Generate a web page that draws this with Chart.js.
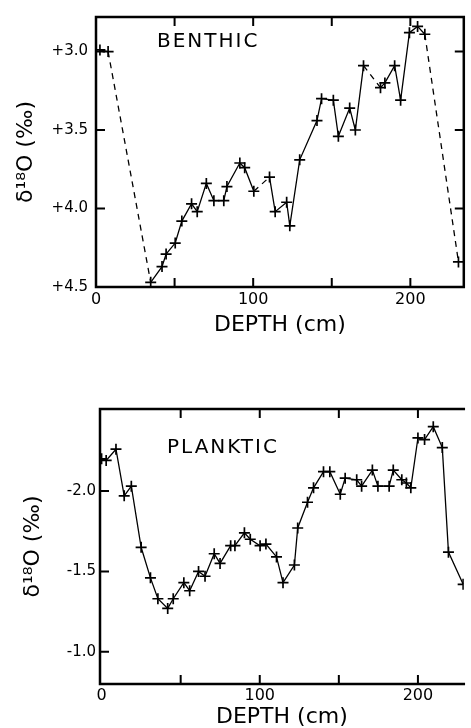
<!DOCTYPE html>
<html>
<head>
<meta charset="utf-8">
<script src="https://cdn.jsdelivr.net/npm/chart.js@4.4.1/dist/chart.umd.min.js"></script>
<style>
  html, body { margin: 0; padding: 0; background: #fff; }
  body { width: 471px; height: 728px; position: relative; overflow: hidden; }
  .panel { position: absolute; left: 0; width: 471px; }
  #benthicBox { top: 0; height: 345px; }
  #plankticBox { top: 380px; height: 348px; }
</style>
</head>
<body>
<div class="panel" id="benthicBox"><canvas id="benthicChart"></canvas></div>
<div class="panel" id="plankticBox"><canvas id="plankticChart"></canvas></div>
<script>
// ====== DATA ======
const benthicDepth = [2.5, 7.7, 34.8, 42, 44.6, 50.4, 54.6, 60.8, 64.4, 70.2, 75, 81.3, 83.3, 91.5, 94.6, 100.4,
    110.4, 114, 121.3, 123.3, 129.6, 140.6, 143.5, 151, 154.2, 161.4, 165, 170.2, 181, 183.8, 190, 193.8,
    199.4, 204.6, 209.2, 230.6];
const benthicD18O = [2.99, 3.00, 4.47, 4.37, 4.29, 4.22, 4.08, 3.97, 4.02, 3.84, 3.95, 3.95, 3.86, 3.71, 3.74, 3.89,
    3.80, 4.02, 3.96, 4.11, 3.69, 3.44, 3.30, 3.31, 3.54, 3.36, 3.50, 3.09, 3.23, 3.20, 3.09, 3.31,
    2.88, 2.84, 2.89, 4.34];
// intervals drawn dashed (start index of the segment)
const benthicGaps = [1, 15, 27, 34];

const plankticDepth = [0, 2.9, 9.1, 14.3, 18.8, 25, 30.9, 35.6, 41.8, 45.3, 52, 55.7, 61.3, 65.4, 71.2, 74.9,
    81.6, 84.3, 90.3, 94, 100.2, 103.9, 110.6, 114.7, 121.9, 124, 130.2, 134, 140.3, 144.3, 150.9, 154,
    161.3, 164.4, 171.2, 174.7, 181.8, 184.4, 189.8, 192.7, 195.5, 200, 204.2, 209.7, 215.4, 219.3, 228.6];
const plankticD18O = [-2.20, -2.19, -2.26, -1.97, -2.03, -1.65, -1.46, -1.33, -1.27, -1.33, -1.43, -1.38, -1.50, -1.47, -1.61, -1.55,
    -1.66, -1.66, -1.74, -1.70, -1.66, -1.67, -1.59, -1.43, -1.54, -1.77, -1.93, -2.02, -2.12, -2.12, -1.98, -2.08,
    -2.07, -2.03, -2.13, -2.03, -2.03, -2.13, -2.07, -2.05, -2.02, -2.33, -2.32, -2.40, -2.27, -1.62, -1.42];

const depthTicks = [0, 50, 100, 150, 200];
const benthicTicks = [3.0, 3.5, 4.0, 4.5];
const plankticTicks = [-2.0, -1.5, -1.0];

const FONT = '"DejaVu Sans", sans-serif';

// ====== FRAME + INWARD TICKS + PANEL LABEL ======
const framePlugin = {
    id: 'frame',
    afterDraw(chart, args, opts) {
        const { ctx, chartArea: a, scales } = chart;
        ctx.save();
        ctx.strokeStyle = '#000';
        ctx.lineCap = 'square';
        ctx.lineWidth = 2.5;
        ctx.beginPath();
        if (opts.right) {
            ctx.moveTo(a.right, a.top);
            ctx.lineTo(a.right, a.bottom);
        }
        ctx.moveTo(a.left, a.top);
        ctx.lineTo(a.right, a.top);
        ctx.moveTo(a.left, a.top);
        ctx.lineTo(a.left, a.bottom);
        ctx.lineTo(a.right, a.bottom);
        ctx.stroke();

        const len = 9;
        ctx.lineWidth = 2;
        ctx.lineCap = 'butt';
        ctx.beginPath();
        depthTicks.filter(v => v > 0).forEach(v => {
            const x = scales.x.getPixelForValue(v);
            ctx.moveTo(x, a.bottom);
            ctx.lineTo(x, a.bottom - len);
            ctx.moveTo(x, a.top);
            ctx.lineTo(x, a.top + len);
        });
        opts.yTicks.forEach(v => {
            const y = scales.y.getPixelForValue(v);
            ctx.moveTo(a.left, y);
            ctx.lineTo(a.left + len, y);
            if (opts.right) {
                ctx.moveTo(a.right, y);
                ctx.lineTo(a.right - len, y);
            }
        });
        ctx.stroke();

        ctx.fillStyle = '#000';
        ctx.font = '20px ' + FONT;
        ctx.letterSpacing = '2px';
        ctx.textBaseline = 'middle';
        ctx.fillText(opts.label, opts.labelX, opts.labelY);
        ctx.restore();
    }
};

function makeChart(canvasId, depth, values, gaps, cfg) {
    return new Chart(document.getElementById(canvasId), {
        type: 'line',
        data: {
            datasets: [{
                data: depth.map((d, i) => ({ x: d, y: values[i] })),
                borderColor: '#000',
                borderWidth: 1.3,
                fill: false,
                tension: 0,
                pointStyle: 'cross',
                pointRadius: 5.5,
                pointBorderWidth: 1.7,
                pointBorderColor: '#000',
                pointBackgroundColor: '#000',
                segment: {
                    borderDash: ctx => gaps.includes(ctx.p0DataIndex) ? [6, 5] : undefined
                }
            }]
        },
        options: {
            responsive: true,
            maintainAspectRatio: false,
            animation: false,
            layout: { padding: cfg.padding },
            plugins: {
                legend: { display: false },
                tooltip: { enabled: false },
                frame: {
                    label: cfg.label,
                    labelX: cfg.labelX,
                    labelY: cfg.labelY,
                    yTicks: cfg.frameTicks,
                    right: cfg.right
                }
            },
            scales: {
                x: {
                    type: 'linear',
                    min: cfg.xMin,
                    max: cfg.xMax,
                    grid: { display: false, drawTicks: false },
                    border: { display: false },
                    afterBuildTicks: s => { s.ticks = depthTicks.filter(v => v % 100 === 0).map(v => ({ value: v })); },
                    afterFit: s => { s.height = cfg.xHeight; },
                    ticks: {
                        color: '#000',
                        padding: cfg.xTickPad,
                        autoSkip: false,
                        maxRotation: 0,
                        font: { family: FONT, size: 16 }
                    },
                    title: {
                        display: true,
                        text: 'DEPTH (cm)',
                        color: '#000',
                        font: { family: FONT, size: 22, lineHeight: 1 },
                        padding: { top: 0, bottom: cfg.xTitlePad }
                    }
                },
                y: {
                    type: 'linear',
                    reverse: true,
                    min: cfg.yMin,
                    max: cfg.yMax,
                    grid: { display: false, drawTicks: false },
                    border: { display: false },
                    afterBuildTicks: s => { s.ticks = cfg.yTicks.map(v => ({ value: v })); },
                    afterFit: s => { s.width = cfg.yWidth; },
                    ticks: {
                        color: '#000',
                        padding: cfg.yTickPad,
                        font: { family: FONT, size: 15 },
                        callback: cfg.yLabel
                    },
                    title: {
                        display: true,
                        text: 'δ¹⁸O (‰)',
                        color: '#000',
                        font: { family: FONT, size: 22, lineHeight: 1 },
                        padding: { top: cfg.yTitlePad, bottom: 0 }
                    }
                }
            }
        },
        plugins: [framePlugin]
    });
}

// ====== BENTHIC ======
makeChart('benthicChart', benthicDepth, benthicD18O, benthicGaps, {
    padding: { top: 10, right: 1, left: 0, bottom: 0 },
    xMin: 0, xMax: 234, xHeight: 58, xTickPad: 3, xTitlePad: 9,
    yMin: 2.78, yMax: 4.5, yWidth: 96, yTickPad: 8, yTitlePad: 15,
    yTicks: benthicTicks,
    frameTicks: benthicTicks.filter(v => v < 4.5),
    yLabel: v => '+' + Number(v).toFixed(1),
    label: 'BENTHIC', labelX: 157, labelY: 42, right: true
});

// ====== PLANKTIC ======
makeChart('plankticChart', plankticDepth, plankticD18O, [], {
    padding: { top: 29, right: 0, left: 0, bottom: 0 },
    xMin: -1, xMax: 229, xHeight: 44, xTickPad: 2, xTitlePad: 0,
    yMin: -2.51, yMax: -0.8, yWidth: 100, yTickPad: 4, yTitlePad: 22,
    yTicks: plankticTicks,
    frameTicks: plankticTicks,
    yLabel: v => Number(v).toFixed(1),
    label: 'PLANKTIC', labelX: 167, labelY: 68, right: false
});
</script>
</body>
</html>
